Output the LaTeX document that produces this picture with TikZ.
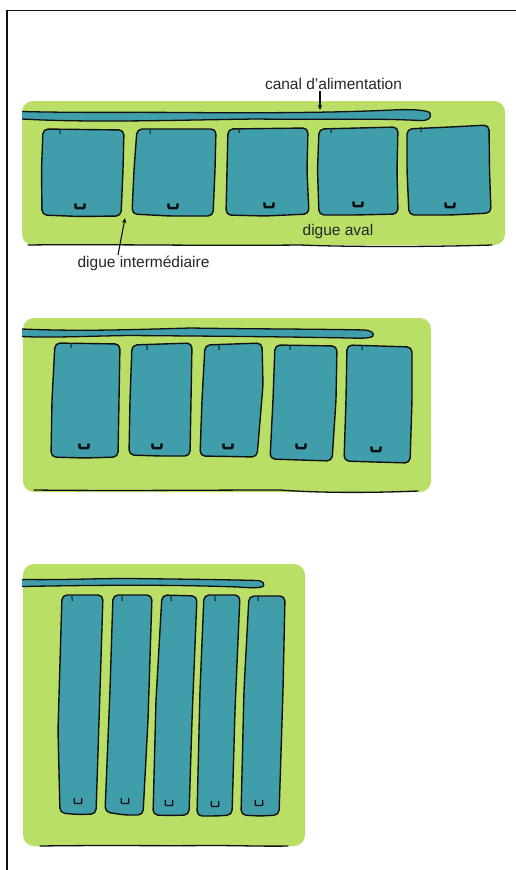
\documentclass[tikz,border=0pt]{standalone}
\usepackage{fontspec}
\setmainfont{Liberation Sans}
\definecolor{lev}{HTML}{B9DF66}
\definecolor{wat}{HTML}{409DAA}
\definecolor{ink}{HTML}{111111}
\usetikzlibrary{arrows.meta}
\tikzset{
  levee/.style={fill=lev,rounded corners=11pt},
  pond/.style={fill=wat,draw=ink,line width=1.4pt,rounded corners=5pt,line join=round},
  canal/.style={fill=wat,draw=ink,line width=1.3pt,line join=round},
  edge line/.style={draw=ink,line width=1.3pt,line cap=round},
  tick mark/.style={draw=ink!80!wat,line width=1.2pt},
  gate/.style={draw=ink,line width=2.5pt,rounded corners=.8pt},
  gate thin/.style={draw=ink,line width=1.3pt,rounded corners=.6pt},
  lbl/.style={font=\fontsize{15.5}{17}\selectfont,text=black!85,inner sep=0pt},
  lead/.style={draw=ink,line width=1.1pt,-{Stealth[length=5pt,width=4.5pt]}}
}
\newcommand{\tk}[2]{\draw[tick mark] (#1,#2) -- ++(0.2,5);}
\newcommand{\gt}[2]{\draw[gate] (#1-4.6,#2-3.5) -- (#1-4.3,#2+1) -- (#1+4.3,#2+1) -- (#1+4.6,#2-3.5);}
\newcommand{\gtt}[2]{\draw[gate thin] (#1-3.8,#2-4) -- (#1-3.6,#2+1.5) -- (#1+3.6,#2+1.5) -- (#1+3.8,#2-4);}
\begin{document}
\begin{tikzpicture}[x=1pt,y=-1pt]
\useasboundingbox (0,0) rectangle (516,870);
\fill[white] (0,0) rectangle (516,870);
\draw[ink,line width=1.2pt] (7,870) -- (7,10.5) -- (516,10.5);

% panel 1
\fill[levee] (22,101) rectangle (505,245);
\draw[canal] (22,111.5) .. controls (80,113) and (130,112) .. (180,112.5) .. controls (250,113) and (330,113) .. (392,110) .. controls (410,109) and (428,110) .. (430,113) .. controls (432,118) and (428,121) .. (420,120.5) .. controls (370,118) and (330,120) .. (256,119) .. controls (180,120) and (90,123) .. (22,119);
\draw[edge line] (28,245) .. controls (100,244) and (200,246) .. (300,245) .. controls (350,247) and (430,247) .. (492,245);
\draw[pond] (43,129) -- (124,130) -- (123,170) -- (121,216) -- (80,216.5) -- (42,215) -- (41.5,170) -- cycle;
\draw[pond] (137,129) -- (216,129) -- (215,170) -- (213,216) -- (170,216) -- (132,214) -- (134,170) -- cycle;
\draw[pond] (228,129) -- (308,128) -- (307,170) -- (309,214) -- (265,216) -- (226,215) -- (227,170) -- cycle;
\draw[pond] (319,129) -- (398,127) -- (397,170) -- (398,214) -- (355,215) -- (319,215) -- (317.5,170) -- cycle;
\draw[pond] (407,129) -- (450,127) -- (489,125) -- (489.5,170) -- (491,213) -- (450,215) -- (409,215) -- (407,170) -- cycle;
\tk{60}{129}\tk{150}{129}\tk{239}{128}\tk{331}{128}\tk{421}{127}
\gt{80}{207}\gt{173}{207}\gt{269}{206}\gt{358}{205}\gt{450}{206}
\node[lbl] (canal) at (333.5,84) {canal d'alimentation};
\node[lbl] (aval) at (338,231) {digue aval};
\node[lbl] (inter) at (143.5,263.5) {digue intermédiaire};
\coordinate (canalTip) at (320,110);
\coordinate (interTip) at (125,218);
\coordinate (canalTail) at (320,91);
\coordinate (interTail) at (118,255);
\draw[lead] (canalTail) -- (canalTip);
\draw[lead] (interTail) -- (interTip);

% panel 2
\fill[levee] (23,318) rectangle (431,492);
\draw[canal] (22,329) .. controls (70,331) and (110,330.5) .. (190,328) .. controls (250,329) and (320,329) .. (365,330) .. controls (372,331) and (374,333) .. (373,336) .. controls (371,338) and (365,338.5) .. (350,338) .. controls (270,336.5) and (190,336) .. (130,335.5) .. controls (90,336) and (50,338) .. (22,336.5);
\draw[edge line] (34,490) .. controls (120,491) and (200,490) .. (280,490) .. controls (320,493) and (370,493) .. (418,491);
\draw[pond] (55,343) -- (120,344) -- (119,400) -- (118,457) -- (85,458) -- (51,457) -- (52,400) -- cycle;
\draw[pond] (132,345) -- (192,343) -- (191,400) -- (190,456) -- (160,456) -- (129,455) -- (130,400) -- cycle;
\draw[pond] (205,345) -- (262,343) -- (263,385) -- (257,457) -- (230,456.5) -- (200,456) -- (202,400) -- cycle;
\draw[pond] (275,345) -- (337,346) -- (336,400) -- (332,461) -- (300,460) -- (270,459) -- (273,400) -- cycle;
\draw[pond] (347,345) -- (412,347) -- (412,400) -- (410,463) -- (375,462) -- (344,461) -- (346,400) -- cycle;
\tk{71}{343}\tk{147}{345}\tk{219}{345}\tk{290}{345}\tk{362}{345}
\gt{84}{447}\gt{157}{447}\gt{228}{447}\gt{301}{447}\gt{376}{450}

% panel 3
\fill[levee] (23,564) rectangle (305,846);
\draw[canal] (22,579.5) .. controls (70,580) and (90,578.5) .. (130,578.5) .. controls (170,579) and (220,579.5) .. (258,580.5) .. controls (263,581) and (265,584) .. (263,586.5) .. controls (260,588) and (250,588) .. (238,587) .. controls (170,584.5) and (100,585) .. (22,586.5);
\draw[edge line] (40,846) .. controls (110,845) and (150,846) .. (210,845.5) .. controls (240,845.5) and (265,846.5) .. (288,846);
\draw[pond] (62,595) -- (103,595) -- (100,690) -- (96,814) -- (78,814.5) -- (60,813) -- (58,730) -- cycle;
\draw[pond] (113,595) -- (152,595) -- (148,720) -- (143,815) -- (125,815) -- (105,812) -- (110,690) -- cycle;
\draw[pond] (162,595) -- (197,596) -- (192,720) -- (189,815) -- (170,815.5) -- (153,815) -- (156,700) -- cycle;
\draw[pond] (204,595) -- (240,595) -- (235,710) -- (232,815) -- (215,816) -- (197,816) -- (200,690) -- cycle;
\draw[pond] (249,596) -- (285,596) -- (283,690) -- (279,815) -- (260,816) -- (241,815) -- (244,690) -- cycle;
\tk{72}{596}\tk{122}{596}\tk{171}{596}\tk{215}{596}\tk{258}{596}
\gtt{78}{802}\gtt{125}{802}\gtt{169}{804}\gtt{215}{805}\gtt{259}{804}
\end{tikzpicture}
\end{document}
